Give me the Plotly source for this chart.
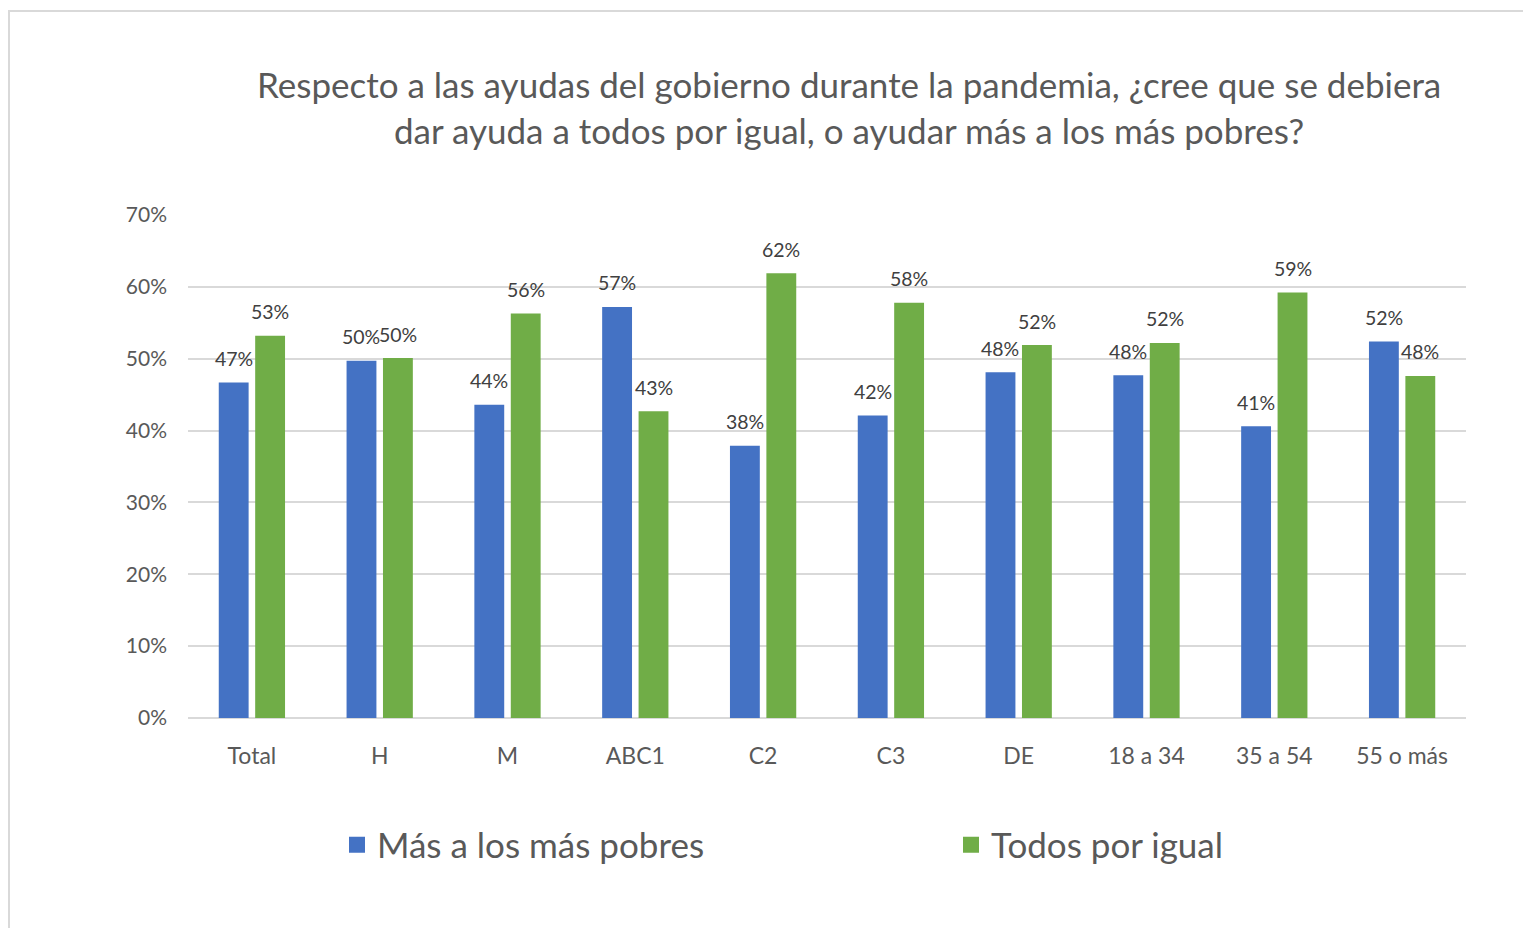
import plotly.graph_objects as go

categories = ["Total", "H", "M", "ABC1", "C2", "C3", "DE", "18 a 34", "35 a 54", "55 o más"]
mas_pobres = [46.7, 49.7, 43.6, 57.2, 37.9, 42.1, 48.1, 47.7, 40.6, 52.4]
todos_igual = [53.2, 50.1, 56.3, 42.7, 61.9, 57.8, 51.9, 52.2, 59.2, 47.6]
series_names = ["Más a los más pobres", "Todos por igual"]
colors = ["#4472C4", "#70AD47"]
y_ticks = [0, 10, 20, 30, 40, 50, 60, 70]
y_tick_text = [f"{v}%" for v in y_ticks]
title_text = ("Respecto a las ayudas del gobierno durante la pandemia, ¿cree que se debiera<br>"
              "dar ayuda a todos por igual, o ayudar más a los más pobres?")

FONT = "Lato, 'Open Sans', sans-serif"
TXT = "#595959"

# figure is placed at (8, 8) in the page
W, H = 1523, 920
L, R, T, B = 180, 1458, 207, 710
PW, PH = R - L, B - T

fig = go.Figure()
for name, vals, col in zip(series_names, [mas_pobres, todos_igual], colors):
    fig.add_trace(go.Bar(x=categories, y=vals, name=name, marker=dict(color=col, line=dict(width=0)),
                         showlegend=False, hoverinfo="skip"))
for name, col, lg in zip(series_names, colors, ["legend", "legend2"]):
    fig.add_trace(go.Scatter(x=[None], y=[None], mode="markers", name=name, legend=lg,
                             marker=dict(symbol="square", size=20, color=col, line=dict(width=0))))

annotations = []
for vals, shift in [(mas_pobres, -18.3), (todos_igual, 18.3)]:
    for c, v in zip(categories, vals):
        annotations.append(dict(x=c, y=v, xref="x", yref="y", text=f"{round(v):d}%",
                                showarrow=False, xshift=shift, yshift=24, yanchor="middle",
                                font=dict(family=FONT, size=19.5, color="#404040")))
annotations.append(dict(x=(841 - L) / PW, y=(B - 99) / PH, xref="paper", yref="paper", xanchor="center",
                        yanchor="middle", showarrow=False, text=title_text, align="center",
                        font=dict(family=FONT, size=35, color=TXT)))

legend_common = dict(orientation="h", xref="paper", y=1 - 837 / H, yref="container",
                     xanchor="left", yanchor="middle", bgcolor="rgba(0,0,0,0)",
                     font=dict(family=FONT, size=35, color=TXT), itemsizing="trace")

fig.update_layout(
    width=W, height=H,
    margin=dict(l=L, r=W - R, t=T, b=H - B),
    paper_bgcolor="white", plot_bgcolor="white",
    barmode="group", bargap=0.43, bargroupgap=0.18,
    annotations=annotations,
    legend=dict(x=(329 - L) / PW, **legend_common),
    legend2=dict(x=(943 - L) / PW, **legend_common),
    shapes=[dict(type="rect", xref="paper", yref="paper",
                 x0=(1 - L) / PW, x1=(1560 - L) / PW,
                 y0=-(940 - B) / PH, y1=(B - 3) / PH,
                 line=dict(color="#d9d9d9", width=2), layer="below")],
    font=dict(family=FONT, color=TXT),
)
fig.update_yaxes(range=[0, 70], tickvals=y_ticks, ticktext=y_tick_text, showgrid=True,
                 gridcolor="#d9d9d9", gridwidth=1.5, zeroline=True, zerolinecolor="#d9d9d9",
                 zerolinewidth=2, ticklabelstandoff=20, tickfont=dict(family=FONT, size=21, color=TXT),
                 showline=False, fixedrange=True)
fig.update_xaxes(tickfont=dict(family=FONT, size=23, color=TXT), ticklabelstandoff=22,
                 showline=False, showgrid=False)

fig.write_html("out.html")
